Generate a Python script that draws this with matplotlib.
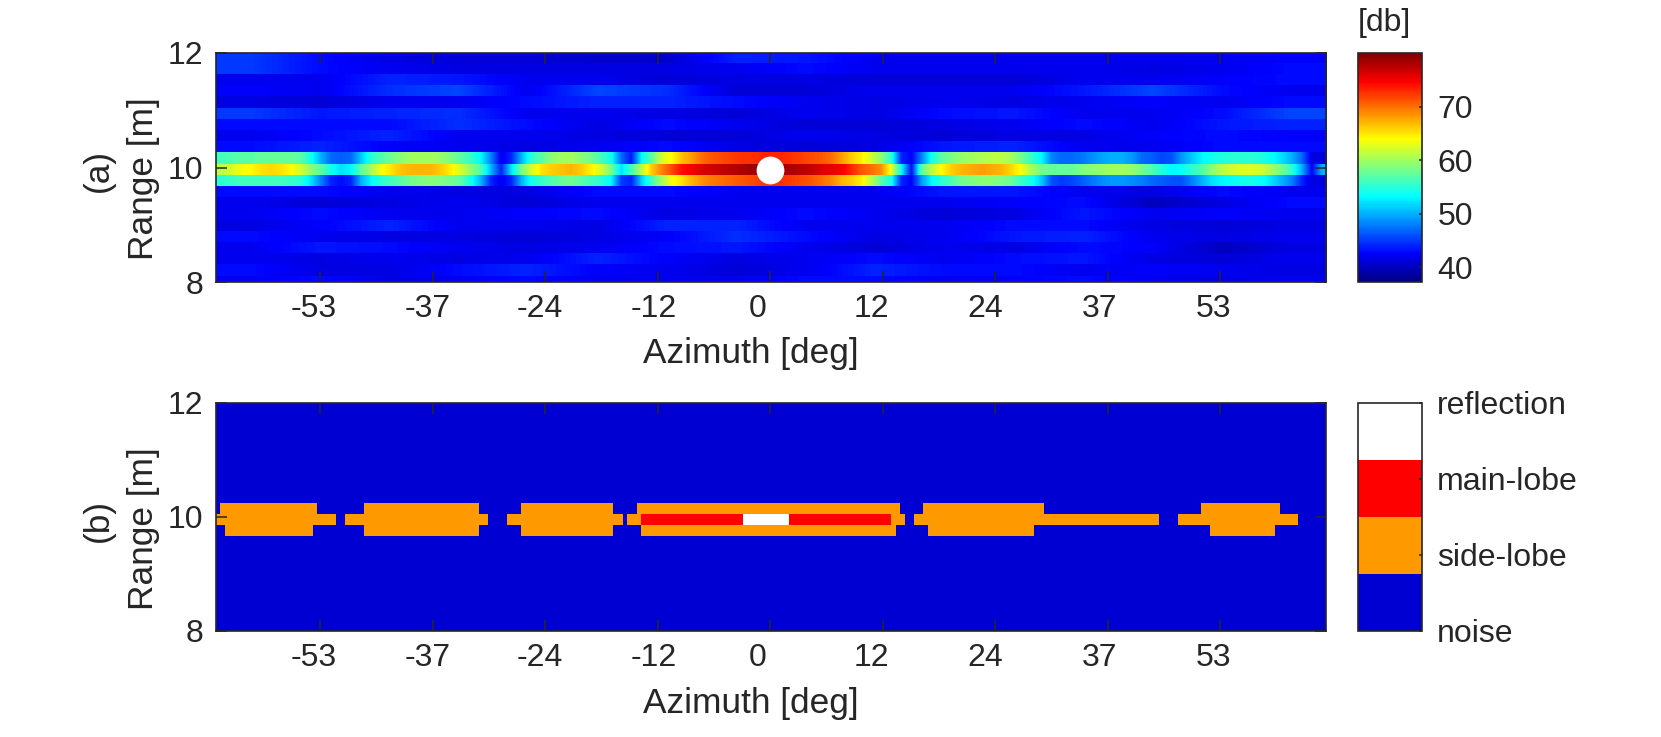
import numpy as np
import matplotlib
matplotlib.use("Agg")
import matplotlib.pyplot as plt
from matplotlib.colors import LinearSegmentedColormap, ListedColormap
from matplotlib.transforms import ScaledTranslation

plt.rcParams["font.family"] = ["Liberation Sans", "DejaVu Sans"]

# axis values
u_ticks = [-0.8, -0.6, -0.4, -0.2, 0.0, 0.2, 0.4, 0.6, 0.8]
u_labels = ["-53", "-37", "-24", "-12", "0", "12", "24", "37", "53"]
u_range = (-0.986, 0.988)
range_ticks = [8, 10, 12]
range_labels = ["8", "10", "12"]
range_center = 9.956
range_step = 0.1956
n_above = 9
reflector_u = 0.0
reflector_range = 9.96

# power map [db], one list per range bin, top to bottom
noise_above = [
    [45, 43, 41.5, 41, 41, 40.5, 40.5, 44, 43.5, 42, 42, 42, 42, 42, 42, 42.5],
    [45, 43, 42, 41.5, 41.5, 41.5, 41.5, 42, 43, 42, 42, 42, 42, 41.5, 42, 43],
    [42, 42, 44, 43.5, 42, 42, 41, 41.5, 41.5, 41, 41, 41, 42, 42, 42.5, 43],
    [42.5, 42, 44.5, 45.5, 42, 45.5, 44.5, 41, 41, 42, 42, 42, 43.5, 45.5, 43, 42],
    [41.5, 41, 42, 42, 43, 44, 44, 43, 42, 41.5, 42, 41.5, 42, 42.5, 42, 43],
    [45, 43.5, 44, 44.5, 42, 42, 41.5, 41, 42, 41.5, 43, 43.5, 42, 42, 43, 45.5],
    [43, 43, 43, 44.5, 43, 41.5, 43, 42, 41, 41, 41.5, 42, 43, 42, 43.5, 44],
    [42, 43, 44, 42, 42, 41.5, 41, 41, 42, 41.5, 41, 41.5, 41.5, 42.5, 43, 42.5],
    [43, 44, 42.5, 42, 41.5, 42, 43, 41.5, 41, 41.5, 43.5, 44, 42, 42, 43, 43],
]
band_top = [
    56, 56.5, 57, 57, 57.5, 57.5, 57.5, 57.5, 57, 54, 50, 47, 46.5, 47, 51, 55, 56.5, 58, 59, 60,
    60, 60, 59.5, 58.5, 57, 55.5, 53, 48, 42, 44, 50, 55, 57, 59, 60, 60, 59, 58, 56, 54,
    47, 43.5, 53, 57, 62, 64, 66.5, 68, 70, 71, 71.5, 72, 72.5, 72.5, 73, 73, 73, 72.5, 72, 71.5,
    71, 70, 68, 66, 64.5, 62, 59, 55, 44, 42.5, 48, 54, 57, 58.5, 59.5, 60, 60.5, 61, 61, 60,
    58, 55.5, 53, 48, 47, 47, 47.5, 48.5, 49.5, 50, 50, 49, 47, 46.5, 45.5, 46, 49, 51, 53, 54,
    54.5, 55, 55, 55, 54.5, 53.5, 52, 50, 47, 41.5, 41.5,
]
band_mid = [
    61, 62, 63.5, 64, 65, 65.5, 65, 64, 62, 59, 57, 54, 52, 53, 57, 60, 63.5, 65, 66.5, 67,
    67, 67, 66, 64.5, 62, 59, 56.5, 50, 44, 52, 58, 62, 65, 66, 66.5, 67, 66, 64.5, 62, 58,
    52, 56, 61, 66, 69, 71.5, 74, 75, 76, 76.5, 77, 77.5, 78, 78.5, 79, 79, 78.5, 78, 77.5, 77,
    76, 75.5, 75, 73, 71, 70, 68.5, 63, 53, 43, 57, 61, 64, 66, 67, 67.5, 68, 67.5, 67, 65.5,
    63.5, 60, 58, 57.5, 57.5, 57.5, 58.5, 59, 59.5, 60, 60, 59.5, 58, 56.5, 54.5, 53, 53.5, 55, 56.5, 59,
    61, 62, 62.5, 62.5, 62, 60, 58, 55, 50, 42.5, 50,
]
band_low = [
    55, 55.5, 56, 56, 56, 56, 56, 55.5, 55, 52, 48, 44, 43, 44, 50, 53, 55, 56, 57, 58,
    58.5, 59, 58.5, 58, 57, 54, 50, 44, 42, 44, 50, 54, 55.5, 56.5, 57.5, 58, 57, 56, 55, 53,
    45, 44, 51, 56, 60, 63.5, 65, 67, 68.5, 69.5, 70, 70.5, 71, 71.5, 72, 72.5, 72.5, 72, 71.5, 71,
    70, 69, 67, 66, 64.5, 61, 57, 54, 44, 42.5, 49, 53, 55, 56.5, 58, 58.5, 59, 59, 58.5, 57.5,
    55.5, 54, 51, 46, 45, 45.5, 46.5, 47.5, 48.5, 49, 49, 48.5, 48, 47, 46.5, 46, 46, 48, 50, 52,
    53, 53.5, 54, 54, 53.5, 52, 50, 48, 44, 41.5, 41.5,
]
noise_below = [
    [43, 43, 42, 41.5, 41.5, 43, 43, 42, 42, 42, 43.5, 43.5, 42, 41.5, 43, 42],
    [42, 41, 41.5, 42, 41, 42, 42, 42, 42, 42, 42, 42.5, 43, 40, 41.5, 43],
    [42, 43, 42, 42, 42.5, 43, 41.5, 42, 43, 42, 41, 41.5, 43.5, 42, 42.5, 42],
    [41.5, 42.5, 44, 42, 42, 41.5, 44, 44, 42, 42, 42, 43, 43, 41.5, 41, 41.5],
    [43, 42, 41.5, 41.5, 41, 41.5, 42.5, 44.5, 43, 41.5, 42, 43.5, 44, 42, 41.5, 42],
    [42, 43.5, 43, 42, 41.5, 42, 43, 43.5, 42, 41, 42, 41.5, 43, 42.5, 40, 41.5],
    [42, 41.5, 42, 41.5, 42, 44, 42.5, 41.5, 42, 43, 42, 43, 43.5, 41.5, 41, 42],
    [43, 41.5, 41.5, 43, 44, 42.5, 42, 41, 42, 44, 43, 43, 42, 42.5, 42, 41.5],
    [42, 43, 41.5, 42, 43, 42, 42, 42, 43, 43, 42, 42.5, 43, 42, 41.5, 42],
]
db_range = (37.2, 80.0)
db_ticks = [40, 50, 60, 70]

# classified map, runs of (class, number of azimuth cells)
n_cols = 240
class_names = ["noise", "side-lobe", "main-lobe", "reflection"]
class_top = [(0, 1), (1, 21), (0, 10), (1, 25), (0, 9), (1, 20), (0, 5), (1, 57), (0, 5), (1, 26), (0, 34), (1, 17), (0, 10)]
class_mid = [(1, 26), (0, 2), (1, 31), (0, 4), (1, 25), (0, 1), (1, 3), (2, 22), (3, 10), (2, 22), (1, 3), (0, 2), (1, 53), (0, 4), (1, 26), (0, 6)]
class_low = [(0, 2), (1, 19), (0, 11), (1, 25), (0, 9), (1, 20), (0, 6), (1, 55), (0, 7), (1, 23), (0, 38), (1, 14), (0, 11)]

# MATLAB style jet, the matplotlib one has its cyan a bit lower
jet = LinearSegmentedColormap.from_list(
    "mjet",
    [(0, (0, 0, 0.5)), (1 / 8, (0, 0, 1)), (3 / 8, (0, 1, 1)), (5 / 8, (1, 1, 0)), (7 / 8, (1, 0, 0)), (1, (0.5, 0, 0))],
    N=256,
)
class_cmap = ListedColormap(["#0000D2", "#FF9900", "#FF0000", "#FFFFFF"])

W, H = 1661, 737
DARK = "#262626"
LABEL_SIZE = 25.4
TICK_SIZE = 23


def px_axes(fig, x0, x1, y0, y1):
    return fig.add_axes([x0 / W, 1 - y1 / H, (x1 - x0) / W, (y1 - y0) / H])


def px_text(fig, x, y, s, **kwargs):
    return fig.text(x / W, 1 - y / H, s, color=DARK, **kwargs)


def style_axes(ax, fig):
    ax.set_xlim(*u_range)
    ax.set_ylim(8, 12)
    ax.set_xticks(u_ticks)
    ax.set_xticklabels(u_labels)
    ax.set_yticks(range_ticks)
    ax.set_yticklabels(range_labels)
    ax.tick_params(direction="in", top=True, right=True, length=8, width=1.1, color=DARK, labelcolor=DARK, labelsize=TICK_SIZE)
    ax.tick_params(axis="x", pad=8.5)
    ax.tick_params(axis="y", pad=9)
    for spine in ax.spines.values():
        spine.set_color(DARK)
        spine.set_linewidth(1.2)
    # the labels sit a little left of their ticks in the original
    shifts = [-6, -5, -5, -4, -13, -11, -10, -8, -7]
    for lab, dx in zip(ax.get_xticklabels(), shifts):
        lab.set_transform(lab.get_transform() + ScaledTranslation(dx / 100, 0, fig.dpi_scale_trans))


def style_cbar(cb):
    cb.ax.tick_params(direction="in", length=2.5, width=1.1, color=DARK, labelcolor=DARK, labelsize=TICK_SIZE, pad=11)
    cb.outline.set_edgecolor(DARK)
    cb.outline.set_linewidth(1.2)


def panel_labels(fig, name, dy):
    px_text(fig, 751, 363 + dy, "Azimuth [deg]", fontsize=LABEL_SIZE, ha="center", va="baseline")
    px_text(fig, 143, 179 + dy, "Range [m]", fontsize=LABEL_SIZE, rotation=90, ha="center", va="center")
    px_text(fig, 98.5, 170.5 + dy, name, fontsize=LABEL_SIZE, rotation=90, ha="center", va="center")


fig = plt.figure(figsize=(W / 100, H / 100), dpi=100)

# (a) measured power
ax1 = px_axes(fig, 215.5, 1326, 53, 282)
rows = noise_above + [band_top, band_mid, band_low] + noise_below
im = None
for k, row in enumerate(rows):
    center = range_center + (n_above + 1 - k) * range_step
    im = ax1.imshow(
        [row],
        extent=(u_range[0], u_range[1], center - range_step / 2, center + range_step / 2),
        cmap=jet,
        vmin=db_range[0],
        vmax=db_range[1],
        interpolation="bilinear",
        aspect="auto",
    )
ax1.plot([reflector_u], [reflector_range], "o", color="white", ms=20, mec="none", zorder=5)
style_axes(ax1, fig)
panel_labels(fig, "(a)", 0)

cax1 = px_axes(fig, 1358, 1422, 53, 282)
cb1 = fig.colorbar(im, cax=cax1, ticks=db_ticks)
style_cbar(cb1)
px_text(fig, 1358, 31, "[db]", fontsize=TICK_SIZE, ha="left", va="baseline")

# (b) classification
ax2 = px_axes(fig, 215.5, 1326, 403, 631)
classes = np.zeros((len(rows), n_cols))
for k, runs in zip([n_above, n_above + 1, n_above + 2], [class_top, class_mid, class_low]):
    classes[k] = np.repeat([r[0] for r in runs], [r[1] for r in runs])
x_edges = np.linspace(u_range[0], u_range[1], n_cols + 1)
y_edges = range_center + (n_above + 1.5 - np.arange(len(rows) + 1)) * range_step
mesh = ax2.pcolormesh(x_edges, y_edges, classes, cmap=class_cmap, vmin=0, vmax=3, shading="flat")
style_axes(ax2, fig)
panel_labels(fig, "(b)", 349.5)

cax2 = px_axes(fig, 1358, 1422, 403, 631)
cb2 = fig.colorbar(mesh, cax=cax2, ticks=[0, 1, 2, 3])
cb2.ax.set_yticklabels(class_names)
style_cbar(cb2)

fig.savefig("out.png", dpi=100)
plt.close(fig)
